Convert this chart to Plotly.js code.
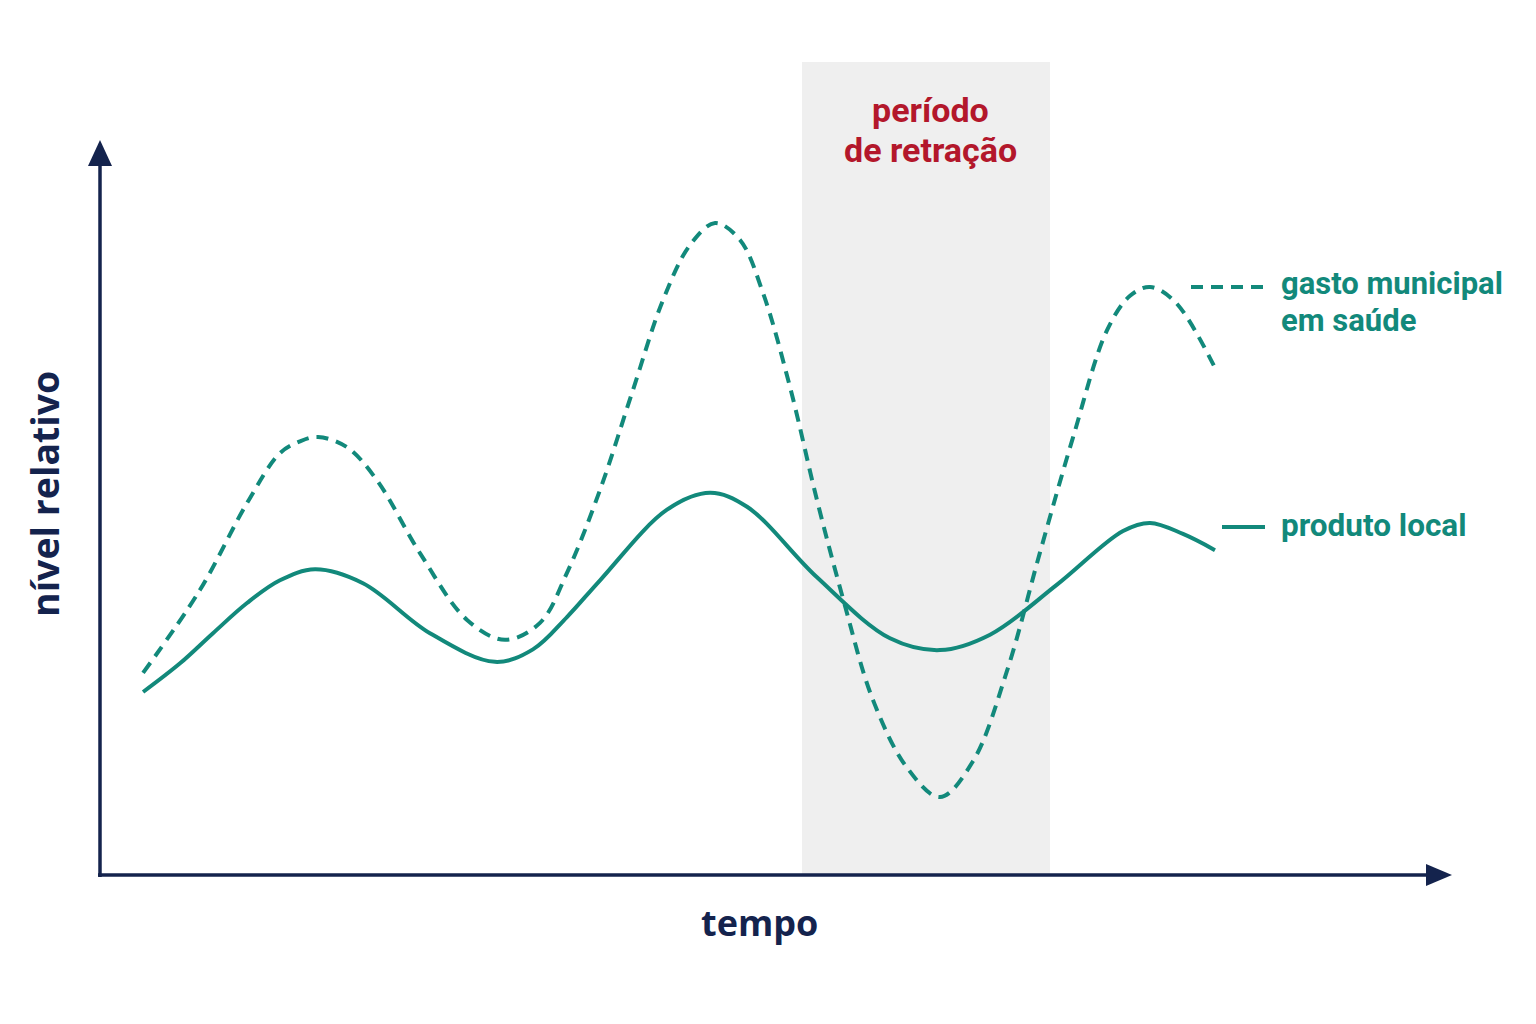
<!DOCTYPE html>
<html>
<head>
<meta charset="utf-8">
<script src="https://cdn.plot.ly/plotly-3.0.1.min.js"></script>
<style>html,body{margin:0;padding:0;background:#fff;}#chart{width:1536px;height:1024px;}</style>
</head>
<body>
<div id="chart"></div>
<script>
// tempo (unidades arbitrárias) e nível relativo (0–100)
const produtoX = [3.19,5.93,8.37,10.89,13.33,15.93,19.48,24.44,29.26,32.07,34.59,37.04,42.0,45.19,47.93,53.11,58.52,62.22,65.93,70.89,75.78,77.78,80.22,82.59];
const produtoY = [24.9,28.8,32.9,37.0,40.1,41.6,39.7,32.9,29.0,30.7,35.1,40.1,49.7,52.0,50.1,40.5,32.2,30.6,32.7,39.5,46.8,47.9,46.4,44.2];

const gastoX = [3.19,7.41,10.89,13.33,14.81,16.15,18.30,20.52,23.70,27.19,30.0,32.59,34.59,37.04,39.48,41.70,43.70,45.56,47.41,49.11,51.11,53.11,55.04,57.26,59.78,62.22,64.67,67.19,69.63,72.07,74.59,76.30,77.78,79.63,82.59];
const gastoY = [27.5,38.8,50.6,57.4,59.0,59.6,58.2,53.7,43.8,34.7,32.0,34.3,41.1,52.4,66.0,78.2,85.7,88.7,86.4,79.2,66.4,51.0,37.6,23.8,14.6,10.6,15.5,27.8,43.9,59.5,74.1,78.8,80.0,78.0,69.0];

const retracao = [52.0, 70.37];
const labels = {
  gasto: ['gasto municipal', 'em saúde'],
  produto: 'produto local',
  periodo: ['período', 'de retração'],
  xTitle: 'tempo',
  yTitle: 'nível relativo'
};

const teal = '#12897b';
const navy = '#14234d';
const red = '#b3172b';
const font = 'Roboto, "Noto Sans", sans-serif';
const titleFont = '"Open Sans", "Noto Sans", sans-serif';

const traces = [
  {x: produtoX, y: produtoY, mode: 'lines', line: {color: teal, width: 4, shape: 'spline', smoothing: 1}, hoverinfo: 'skip', showlegend: false},
  {x: gastoX, y: gastoY, mode: 'lines', line: {color: teal, width: 4, shape: 'spline', smoothing: 1, dash: '12px,8px'}, hoverinfo: 'skip', showlegend: false}
];

const W = 1536, H = 1024, ml = 100, mr = 86, mt = 140, mb = 149;
const pw = W - ml - mr, ph = H - mt - mb;
const px = p => (p - ml) / pw;       // pixel x -> paper
const py = p => (H - mb - p) / ph;   // pixel y -> paper

const shapes = [
  {type: 'rect', xref: 'x', yref: 'paper', x0: retracao[0], x1: retracao[1], y0: 0, y1: py(62), fillcolor: '#efefef', line: {width: 0}, layer: 'below'},
  // y axis
  {type: 'line', xref: 'paper', yref: 'paper', x0: 0, x1: 0, y0: py(877), y1: py(162), line: {color: navy, width: 3.5}},
  {type: 'path', xref: 'paper', yref: 'paper', path: `M ${px(88)} ${py(166)} L ${px(100)} ${py(140)} L ${px(112)} ${py(166)} Z`, fillcolor: navy, line: {width: 0}},
  // x axis
  {type: 'line', xref: 'paper', yref: 'paper', x0: px(98), x1: px(1430), y0: 0, y1: 0, line: {color: navy, width: 3.5}},
  {type: 'path', xref: 'paper', yref: 'paper', path: `M ${px(1426)} ${py(864)} L ${px(1452)} ${py(875)} L ${px(1426)} ${py(886)} Z`, fillcolor: navy, line: {width: 0}},
  // legend samples
  {type: 'line', xref: 'paper', yref: 'paper', x0: px(1191), x1: px(1266), y0: py(287), y1: py(287), line: {color: teal, width: 4, dash: '12px,8px'}},
  {type: 'line', xref: 'paper', yref: 'paper', x0: px(1222), x1: px(1265), y0: py(527), y1: py(527), line: {color: teal, width: 4}}
];

const txt = (x, y, text, size, color, anchor, fam) => ({xref: 'paper', yref: 'paper', x: px(x), y: py(y), text: text, showarrow: false,
  font: {family: fam || font, size: size, color: color, weight: 700}, xanchor: anchor, yanchor: 'middle'});

const annotations = [
  txt(930, 110, labels.periodo[0], 34, red, 'center'),
  txt(930, 150, labels.periodo[1], 34, red, 'center'),
  txt(1279, 283, labels.gasto[0], 31, teal, 'left'),
  txt(1279, 320, labels.gasto[1], 31, teal, 'left'),
  txt(1279, 525, labels.produto, 31.5, teal, 'left'),
  txt(759, 923, labels.xTitle, 36, navy, 'center', titleFont),
  Object.assign(txt(44, 494, labels.yTitle, 37.5, navy, 'center', titleFont), {textangle: -90})
];

const layout = {
  width: W, height: H,
  margin: {l: ml, r: mr, t: mt, b: mb, pad: 0},
  paper_bgcolor: '#ffffff', plot_bgcolor: 'rgba(0,0,0,0)',
  xaxis: {range: [0, 100], showgrid: false, zeroline: false, showline: false, showticklabels: false, ticks: '', fixedrange: true},
  yaxis: {range: [0, 100], showgrid: false, zeroline: false, showline: false, showticklabels: false, ticks: '', fixedrange: true},
  shapes: shapes,
  annotations: annotations,
  showlegend: false
};

Plotly.newPlot('chart', traces, layout, {staticPlot: true, displayModeBar: false});
</script>
</body>
</html>
